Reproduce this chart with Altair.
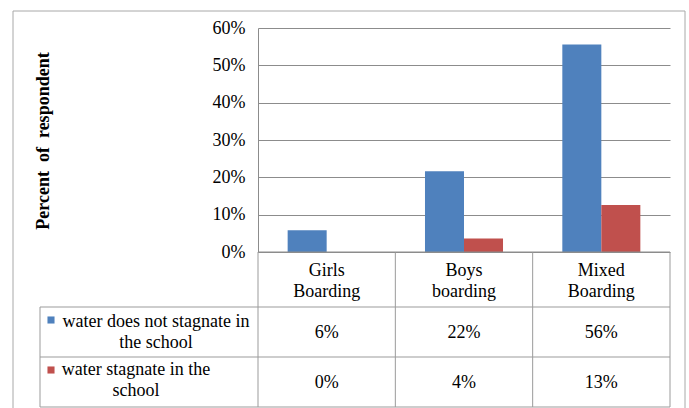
import altair as alt
import pandas as pd

categories = ["Girls Boarding", "Boys boarding", "Mixed Boarding"]
series = ["water does not stagnate in the school", "water stagnate in the school"]
series_lines = ["water does not stagnate in\nthe school", "water stagnate in the\nschool"]
not_stagnate = [0.058, 0.216, 0.556]
stagnate = [0.0, 0.036, 0.126]
y_ticks = [0, 0.1, 0.2, 0.3, 0.4, 0.5, 0.6]
colors = ["#4f81bd", "#c0504d"]

rows = []
for s, vals in zip(series, [not_stagnate, stagnate]):
    for c, v in zip(categories, vals):
        rows.append({"cat": c, "series": s, "value": v})
df = pd.DataFrame(rows)
cat_df = pd.DataFrame({"cat": categories})
leg_df = pd.DataFrame({"series": series, "label": series_lines})
one = pd.DataFrame({"k": [0]})

FONT = "Liberation Serif"
W, H = 412, 224
LINE = "#9b9b9b"
GRID = "#8c8c8c"
TABLE_LEFT = -218
ROW1, ROW2, ROW3 = 279, 329, 379

x_enc = alt.X("cat:N", scale=alt.Scale(domain=categories, paddingInner=0, paddingOuter=0), axis=None)

border = alt.Chart(one).mark_rect(fillOpacity=0, stroke="#a8a8a8", strokeWidth=1).encode(
    x=alt.value(13 - 258), x2=alt.value(685 - 258), y=alt.value(11 - 28), y2=alt.value(400)
)

bars = alt.Chart(df).mark_bar().encode(
    x=x_enc,
    xOffset=alt.XOffset("series:N", scale=alt.Scale(domain=series, paddingInner=0, paddingOuter=0.76)),
    y=alt.Y(
        "value:Q",
        scale=alt.Scale(domain=[0, 0.6], nice=False),
        axis=alt.Axis(
            values=y_ticks, format=".0%", title=None, ticks=False, labelPadding=13,
            labelFont=FONT, labelFontSize=18, labelColor="black",
            domainColor=GRID, gridColor=GRID, grid=True,
        ),
    ),
    color=alt.Color("series:N", scale=alt.Scale(domain=series, range=colors), legend=None),
)

title = alt.Chart(one).mark_text(angle=270, font=FONT, fontSize=18, fontWeight="bold", baseline="middle", align="center").encode(
    x=alt.value(-214), y=alt.value(113), text=alt.value("Percent\u00a0 of\u00a0 respondent")
)

vlines = alt.Chart(cat_df).mark_rule(color=LINE).encode(
    x=alt.X("cat:N", bandPosition=0), y=alt.value(H), y2=alt.value(ROW3)
)
right_line = alt.Chart(one).mark_rule(color=LINE).encode(x=alt.value(W), y=alt.value(H), y2=alt.value(ROW3))
left_line = alt.Chart(one).mark_rule(color=LINE).encode(x=alt.value(TABLE_LEFT), y=alt.value(ROW1), y2=alt.value(ROW3))
base_line = alt.Chart(one).mark_rule(color=GRID).encode(x=alt.value(0), x2=alt.value(W), y=alt.value(H))
hlines = [
    alt.Chart(one).mark_rule(color=LINE).encode(x=alt.value(TABLE_LEFT), x2=alt.value(W), y=alt.value(r))
    for r in (ROW1, ROW2, ROW3)
]

cat_labels = alt.Chart(cat_df).mark_text(font=FONT, fontSize=18, lineBreak=" ", baseline="alphabetic", lineHeight=21, color="black").encode(
    x=alt.X("cat:N"), y=alt.value(248), text="cat:N"
)

value_rows = []
legend_rows = []
row_baselines = [310, 360]
square_y = [292, 342]
label_x = [-102, -122]
label_y = [299, 347]
for i, s in enumerate(series):
    value_rows.append(
        alt.Chart(df).transform_filter(alt.datum.series == s).mark_text(font=FONT, fontSize=18, baseline="alphabetic", color="black").encode(
            x=alt.X("cat:N"), y=alt.value(row_baselines[i]), text=alt.Text("value:Q", format=".0%")
        )
    )
    legend_rows.append(
        alt.Chart(leg_df).transform_filter(alt.datum.series == s).mark_square(size=50, opacity=1).encode(
            x=alt.value(-207), y=alt.value(square_y[i]), color=alt.Color("series:N", legend=None)
        )
    )
    legend_rows.append(
        alt.Chart(leg_df).transform_filter(alt.datum.series == s).mark_text(font=FONT, fontSize=18, lineBreak="\n", baseline="alphabetic", align="center", lineHeight=21, color="black").encode(
            x=alt.value(label_x[i]), y=alt.value(label_y[i]), text="label:N"
        )
    )

chart = alt.layer(
    border, bars, title, vlines, right_line, left_line, base_line, *hlines, cat_labels, *value_rows, *legend_rows
).properties(
    width=W, height=H,
    padding={"left": 258, "top": 28, "right": 19, "bottom": 156},
    autosize=alt.AutoSizeParams(type="none"),
).configure_view(stroke=None)

chart.save("out.html", embed_options={"renderer": "svg", "actions": False})
